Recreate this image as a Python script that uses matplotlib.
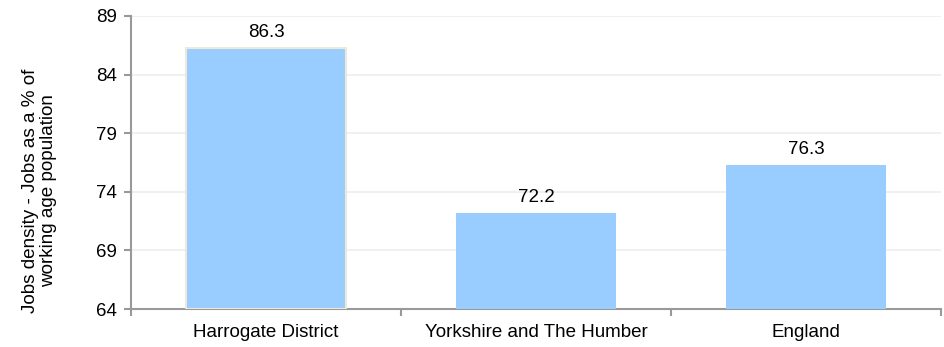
import matplotlib
matplotlib.use("Agg")
import matplotlib.pyplot as plt
from matplotlib.ticker import FixedLocator, NullFormatter, FixedFormatter

plt.rcParams['font.family'] = ['Liberation Sans', 'DejaVu Sans']

categories = ["Harrogate District", "Yorkshire and The Humber", "England"]
values = [86.3, 72.2, 76.3]
y_ticks = [64, 69, 74, 79, 84, 89]
y_label = "Jobs density - Jobs as a % of\nworking age population"

fig = plt.figure(figsize=(9.44, 3.47), dpi=100)
ax = fig.add_axes([131 / 944, 1 - 309 / 347, 810 / 944, 293 / 347])

x = list(range(len(categories)))
edges = ["#ECE9D8", "none", "none"]
ax.bar(x, [v - y_ticks[0] for v in values], bottom=y_ticks[0], width=0.593,
       color="#99CCFF", edgecolor=edges, linewidth=1.5, zorder=3)

for xi, v in zip(x, values):
    ax.annotate(f"{v:.1f}", (xi, v), xytext=(0, 5), textcoords="offset points",
                ha="center", va="bottom", fontsize=13.5, color="#000000")

ax.set_xlim(-0.5, len(categories) - 0.5)
ax.set_ylim(y_ticks[0], y_ticks[-1])
ax.set_yticks(y_ticks)
ax.set_yticklabels([str(t) for t in y_ticks], fontsize=13.5)

ax.xaxis.set_major_locator(FixedLocator([i - 0.5 for i in range(len(categories) + 1)]))
ax.xaxis.set_major_formatter(NullFormatter())
ax.xaxis.set_minor_locator(FixedLocator(x))
ax.xaxis.set_minor_formatter(FixedFormatter(categories))
ax.tick_params(axis="x", which="minor", length=0, labelsize=13.5, pad=11)
ax.tick_params(axis="x", which="major", length=5, color="#999999", width=1.5)
ax.tick_params(axis="y", length=5, color="#999999", width=1.5, pad=5)

ax.grid(axis="y", color="#EEEEEE", linewidth=1.2, zorder=0)
for s in ["top", "right"]:
    ax.spines[s].set_visible(False)
for s in ["left", "bottom"]:
    ax.spines[s].set_color("#999999")
    ax.spines[s].set_linewidth(1.5)

ax.set_ylabel(y_label, fontsize=13.6, linespacing=1.1)
ax.yaxis.set_label_coords(-0.091, 0.405)

fig.savefig("out.png", dpi=100)
